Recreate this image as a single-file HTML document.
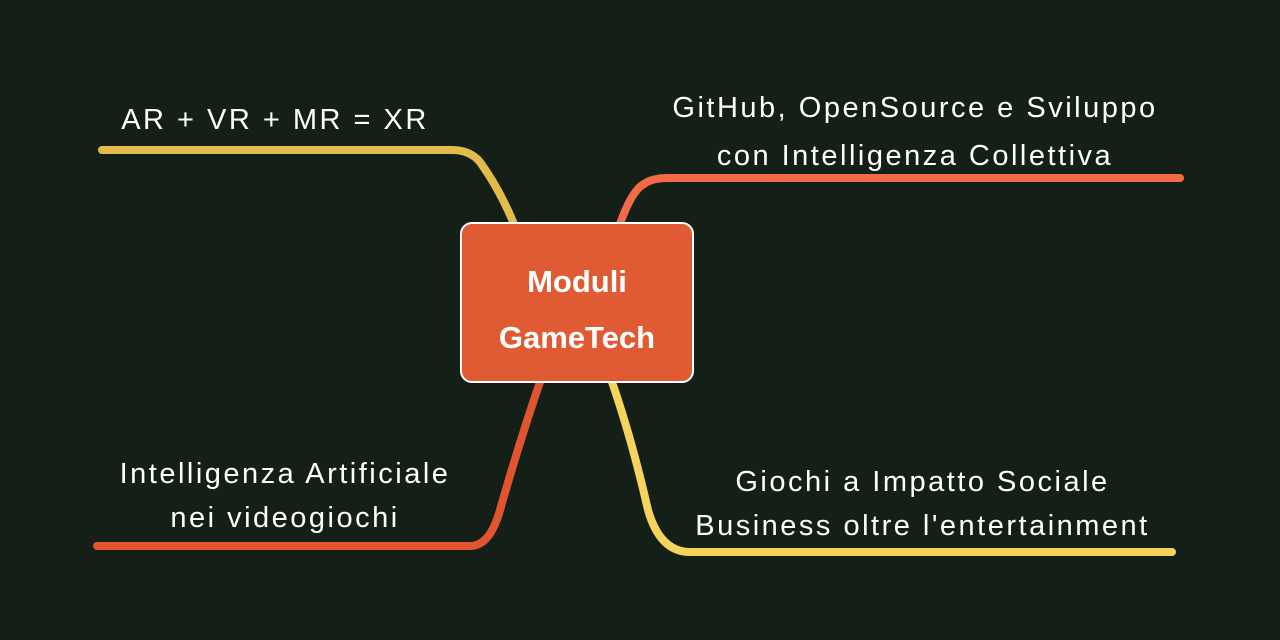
<!DOCTYPE html>
<html><head><meta charset="utf-8"><style>
html,body{margin:0;padding:0;}
body{width:1280px;height:640px;background:#142017;overflow:hidden;position:relative;font-family:"Liberation Sans",sans-serif;}
svg{position:absolute;left:0;top:0;}
.t{position:absolute;color:#fff;font-size:29px;text-align:center;white-space:nowrap;letter-spacing:2.5px;}
.box{position:absolute;left:460px;top:222px;width:234px;height:161px;background:#e05a33;border:2px solid #fff;border-radius:12px;color:#fff;font-weight:bold;font-size:31px;text-align:center;line-height:56px;box-sizing:border-box;padding-top:30px;}
</style></head><body>
<svg width="1280" height="640">
<g fill="none" stroke-width="8" stroke-linecap="round">
<path d="M102 150 L452 150 Q470 150 480 162 Q500 190 514 224" stroke="#e3bb4b"/>
<path d="M620 224 Q632 190 644 184 Q652 178 668 178 L1180 178" stroke="#f26a46"/>
<path d="M540 382 Q520 440 500 510 Q490 546 470 546 L97 546" stroke="#e0552f"/>
<path d="M612 382 Q632 440 648 510 Q660 552 690 552 L1172 552" stroke="#f6d35c"/>
</g>
</svg>
<div class="t" style="left:95px;top:104px;width:360px;">AR + VR + MR = XR</div>
<div class="t" style="left:640px;top:84px;width:550px;line-height:48px;">GitHub, OpenSource e Sviluppo<br>con Intelligenza Collettiva</div>
<div class="t" style="left:90px;top:452px;width:390px;line-height:44px;">Intelligenza Artificiale<br>nei videogiochi</div>
<div class="t" style="left:670px;top:460px;width:505px;line-height:44px;">Giochi a Impatto Sociale<br>Business oltre l'entertainment</div>
<div class="box">Moduli<br>GameTech</div>
</body></html>
